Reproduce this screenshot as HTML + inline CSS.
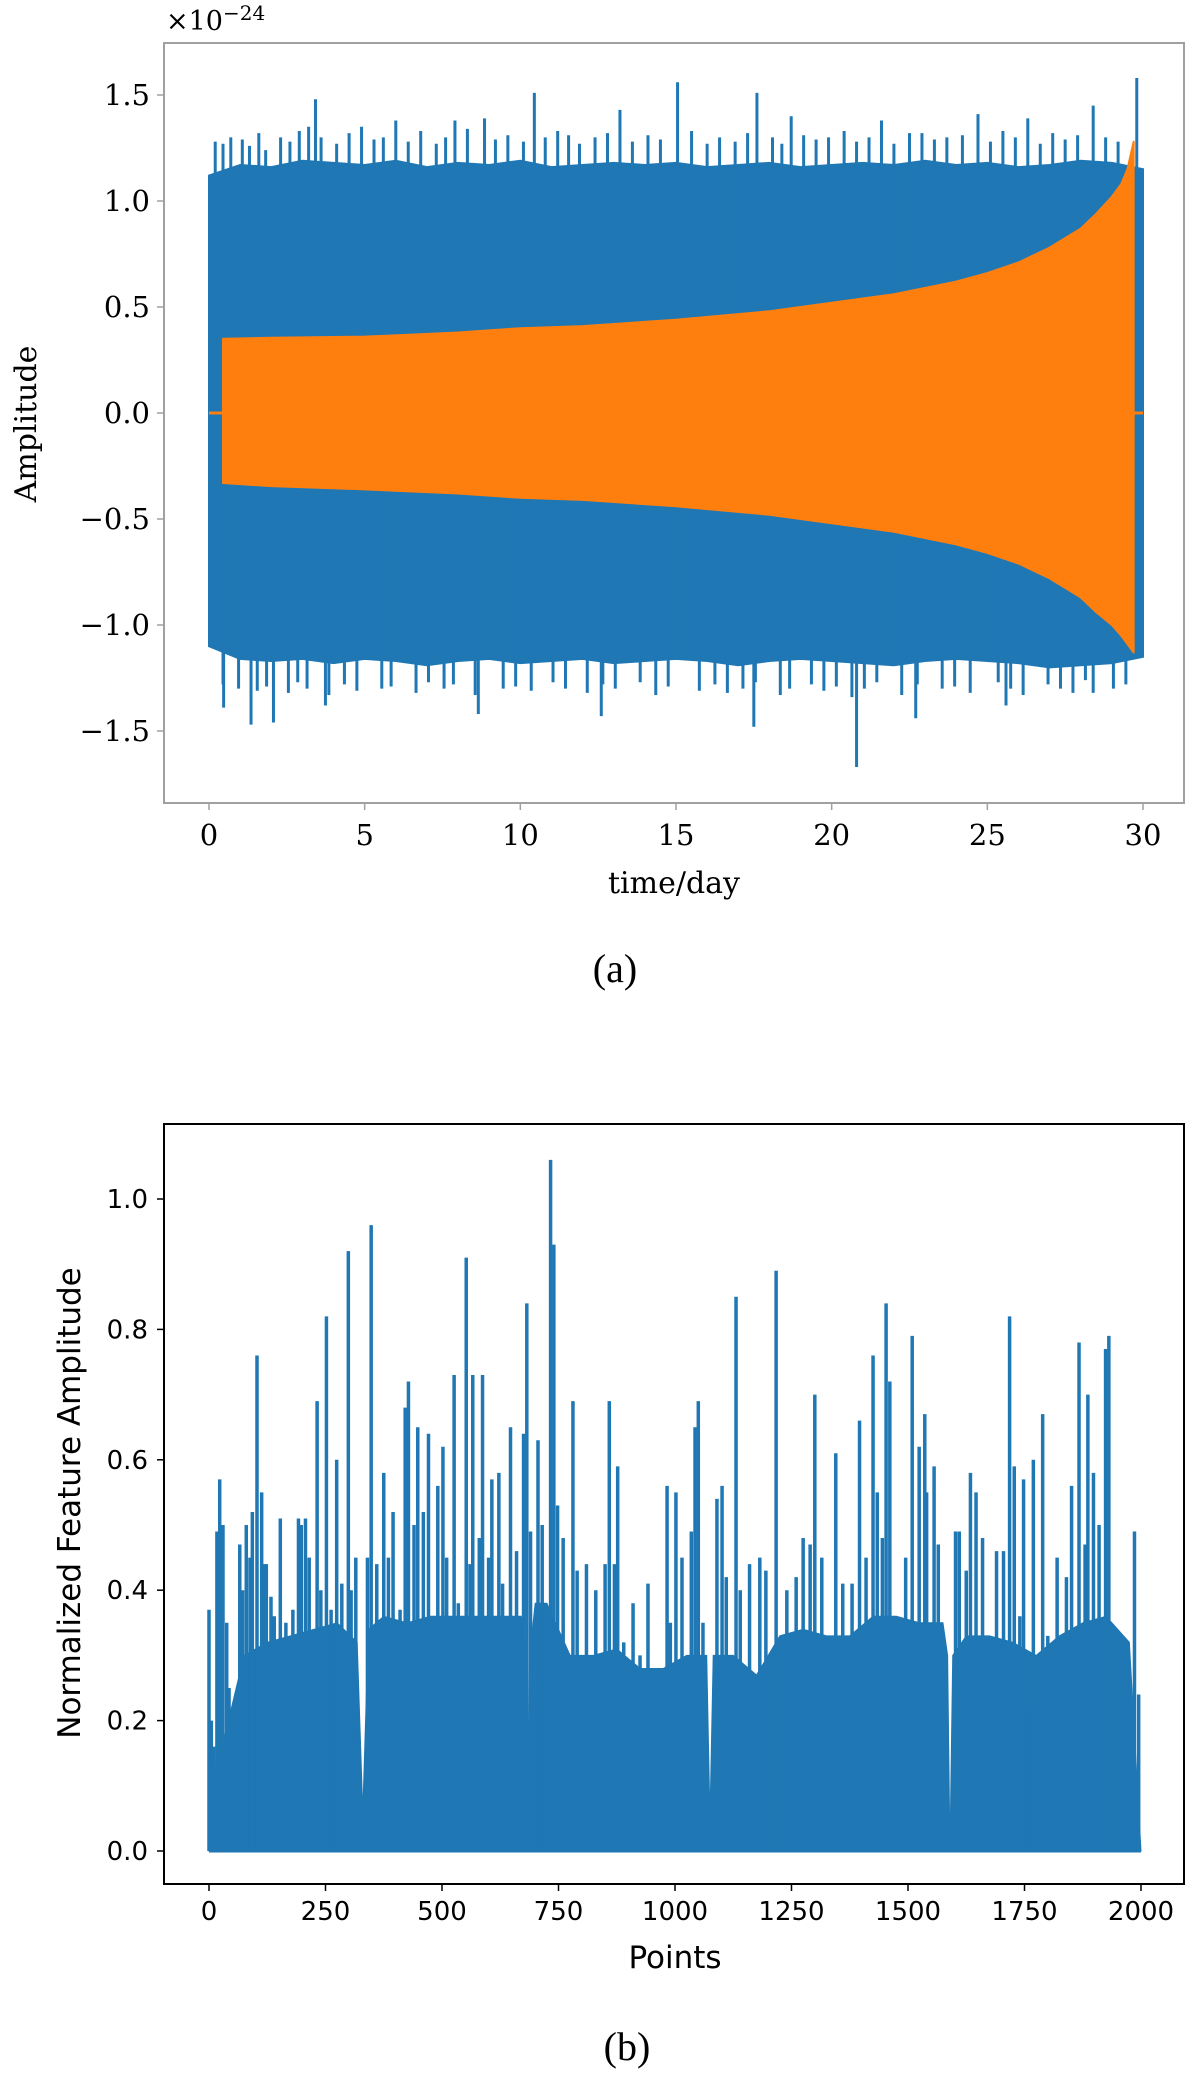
<!DOCTYPE html>
<html><head><meta charset="utf-8">
<style>
html,body{margin:0;padding:0;background:#fff;}
svg{display:block;}
.ser{font-family:"DejaVu Serif","Liberation Serif",serif;}
.san{font-family:"DejaVu Sans","Liberation Sans",sans-serif;}
</style></head>
<body>
<svg id="chart" width="1200" height="2079" viewBox="0 0 1200 2079" xmlns="http://www.w3.org/2000/svg">
<g id="top"></g>
<g id="bot"></g>
</svg>
<script>
// ---- chart (a) data ----
const aXTicks = [0,5,10,15,20,25,30];
const aYTicks = [-1.5,-1.0,-0.5,0.0,0.5,1.0,1.5];
const aEdgeDays = [0,1,2,3,4,5,6,7,8,9,10,11,12,13,14,15,16,17,18,19,20,21,22,23,24,25,26,27,28,29,30];
const aUpperEdge = [1.12,1.17,1.16,1.19,1.18,1.17,1.19,1.16,1.18,1.17,1.19,1.16,1.17,1.18,1.17,1.18,1.16,1.17,1.18,1.16,1.17,1.18,1.17,1.19,1.17,1.18,1.16,1.17,1.19,1.18,1.15];
const aLowerEdge = [-1.1,-1.16,-1.17,-1.16,-1.18,-1.16,-1.17,-1.19,-1.17,-1.16,-1.18,-1.17,-1.16,-1.18,-1.17,-1.16,-1.17,-1.19,-1.17,-1.16,-1.17,-1.18,-1.19,-1.17,-1.16,-1.17,-1.18,-1.2,-1.19,-1.18,-1.15];
const aSpikeDays = [0.45,1.07,1.82,3.2,3.42,4.9,6.0,7.9,8.85,10.45,11.55,13.2,15.05,17.6,18.7,21.6,22.9,24.7,26.3,28.4,29.8,0.47,1.35,2.07,3.74,8.65,12.6,17.5,20.8,22.7,25.6,28.4];
const aSpikeVals = [1.27,1.29,1.24,1.35,1.48,1.35,1.38,1.38,1.39,1.51,1.31,1.43,1.56,1.51,1.40,1.38,1.32,1.41,1.39,1.45,1.58,-1.39,-1.47,-1.46,-1.38,-1.42,-1.43,-1.48,-1.67,-1.44,-1.38,-1.32];
const aMidDays = [0.2,0.7,1.3,1.6,2.3,2.6,2.9,3.6,4.1,4.5,5.3,5.6,6.4,6.8,7.3,7.6,8.3,9.2,9.6,10.1,10.8,11.2,11.9,12.4,12.8,13.6,14.1,14.5,15.5,16.0,16.4,16.9,17.3,18.1,18.4,19.1,19.5,19.9,20.4,20.8,21.2,22.0,22.5,23.3,23.7,24.2,25.1,25.5,25.9,26.7,27.1,27.5,27.9,28.8,29.2];
const aMidUpper = [1.28,1.3,1.26,1.32,1.3,1.28,1.33,1.3,1.27,1.32,1.29,1.3,1.28,1.33,1.27,1.3,1.34,1.29,1.31,1.28,1.3,1.33,1.27,1.3,1.32,1.28,1.31,1.29,1.33,1.27,1.3,1.28,1.32,1.3,1.27,1.31,1.29,1.3,1.33,1.28,1.3,1.27,1.32,1.29,1.3,1.31,1.28,1.33,1.3,1.27,1.32,1.29,1.31,1.3,1.28];
const aMidLower = [-1.28,-1.3,-1.31,-1.29,-1.32,-1.27,-1.3,-1.33,-1.28,-1.31,-1.3,-1.29,-1.32,-1.27,-1.3,-1.28,-1.33,-1.3,-1.29,-1.31,-1.27,-1.3,-1.32,-1.28,-1.3,-1.27,-1.33,-1.29,-1.31,-1.28,-1.32,-1.3,-1.27,-1.33,-1.3,-1.28,-1.31,-1.29,-1.34,-1.3,-1.27,-1.33,-1.28,-1.3,-1.29,-1.32,-1.27,-1.3,-1.33,-1.28,-1.3,-1.32,-1.26,-1.3,-1.28];
const aSigDays = [0.45,2,5,8,10,12,15,18,20,22,24,25,26,27,28,28.5,29,29.3,29.5,29.7];
const aSigUpper = [0.35,0.355,0.36,0.38,0.40,0.41,0.44,0.48,0.52,0.56,0.62,0.66,0.71,0.78,0.87,0.94,1.02,1.08,1.15,1.28];
const aSigLower = [-0.33,-0.345,-0.36,-0.38,-0.40,-0.41,-0.44,-0.48,-0.52,-0.56,-0.62,-0.66,-0.71,-0.78,-0.87,-0.94,-1.0,-1.05,-1.09,-1.13];

// ---- chart (b) data ----
const bXTicks = [0,250,500,750,1000,1250,1500,1750,2000];
const bYTicks = [0.0,0.2,0.4,0.6,0.8,1.0];
const bPeakIdx = [0,10,17,23,30,43,66,80,93,103,113,123,133,153,192,207,232,252,274,299,315,348,375,395,421,428,448,471,491,502,526,552,566,587,607,622,647,675,682,706,733,740,748,781,859,877,942,983,1002,1035,1043,1050,1090,1101,1131,1182,1217,1275,1300,1345,1396,1425,1434,1453,1461,1509,1524,1536,1556,1602,1634,1646,1718,1728,1748,1769,1789,1851,1867,1886,1898,1924,1931,1986,1995];
const bPeakVals = [0.37,0.16,0.49,0.57,0.50,0.25,0.47,0.50,0.52,0.76,0.55,0.44,0.39,0.51,0.51,0.51,0.69,0.82,0.60,0.92,0.45,0.96,0.58,0.52,0.68,0.72,0.65,0.64,0.56,0.62,0.73,0.91,0.73,0.73,0.57,0.58,0.65,0.64,0.84,0.63,1.06,0.93,0.53,0.69,0.69,0.59,0.41,0.56,0.55,0.49,0.65,0.69,0.54,0.56,0.85,0.45,0.89,0.48,0.70,0.61,0.66,0.76,0.55,0.84,0.72,0.79,0.62,0.67,0.59,0.49,0.58,0.55,0.82,0.59,0.57,0.60,0.67,0.56,0.78,0.70,0.58,0.77,0.79,0.49,0.24];
const bMidIdx = [5,38,55,72,88,118,140,165,180,198,215,240,262,285,305,340,360,385,410,440,460,480,510,535,560,580,600,630,660,690,715,760,790,810,830,850,870,890,910,925,960,990,1015,1060,1110,1140,1160,1195,1240,1260,1290,1315,1360,1380,1410,1445,1480,1495,1540,1565,1610,1625,1660,1690,1705,1740,1760,1800,1820,1840,1880,1910,1950,1970];
const bMidVals = [0.2,0.35,0.12,0.4,0.45,0.44,0.36,0.35,0.37,0.5,0.45,0.4,0.37,0.41,0.4,0.45,0.44,0.45,0.37,0.5,0.52,0.32,0.45,0.38,0.44,0.48,0.45,0.41,0.46,0.49,0.5,0.48,0.43,0.44,0.4,0.44,0.44,0.32,0.38,0.3,0.26,0.35,0.45,0.35,0.42,0.4,0.44,0.43,0.4,0.42,0.47,0.45,0.41,0.41,0.45,0.48,0.33,0.45,0.55,0.47,0.49,0.43,0.48,0.46,0.46,0.36,0.22,0.33,0.45,0.42,0.47,0.5,0.3,0.3];
const bBodyIdx = [0,25,75,125,175,225,275,318,330,342,375,425,475,525,575,625,670,682,685,688,700,725,775,825,875,925,975,1025,1068,1075,1082,1125,1175,1225,1275,1325,1375,1425,1475,1525,1575,1585,1590,1596,1625,1675,1725,1775,1825,1875,1925,1975,2000];
const bBodyVals = [0.10,0.15,0.30,0.32,0.33,0.34,0.35,0.32,0.06,0.34,0.36,0.35,0.36,0.36,0.36,0.36,0.36,0.3,0.05,0.3,0.38,0.38,0.30,0.30,0.31,0.28,0.28,0.30,0.3,0.05,0.3,0.30,0.27,0.33,0.34,0.33,0.33,0.36,0.36,0.35,0.35,0.3,0.0,0.3,0.33,0.33,0.32,0.30,0.33,0.35,0.36,0.32,0.0];

const NS = "http://www.w3.org/2000/svg";
function mk(parent, tag, attrs, text){
  const e = document.createElementNS(NS, tag);
  for (const k in attrs) e.setAttribute(k, attrs[k]);
  if (text !== undefined) e.textContent = text;
  parent.appendChild(e);
  return e;
}
const BLUE = "#1f77b4", ORANGE = "#ff7f0e";

// ===== chart (a) =====
(function(){
  const g = document.getElementById('top');
  const L=164, R=1184, T=43, B=803;
  const X = d => 209 + d*(934/30);
  const Y = v => 413 - v*212;
  let pts = aEdgeDays.map((d,i)=>X(d)+","+Y(aUpperEdge[i]));
  for (let i=aEdgeDays.length-1;i>=0;i--) pts.push(X(aEdgeDays[i])+","+Y(aLowerEdge[i]));
  let body = mk(g,'polygon',{points:pts.join(' '),fill:BLUE,stroke:BLUE,'stroke-width':2});
  
  
  aMidDays.forEach((d,i)=>{
    if (aMidUpper[i]!==undefined){
      const l = mk(g,'line',{x1:X(d),x2:X(d),y1:Y(0),y2:Y(aMidUpper[i]),stroke:BLUE,'stroke-width':3});
      
      
    }
    if (aMidLower[i]!==undefined){
      const d2 = d+0.25;
      const l2 = mk(g,'line',{x1:X(d2),x2:X(d2),y1:Y(0),y2:Y(aMidLower[i]),stroke:BLUE,'stroke-width':3});
      
      
    }
  });
  aSpikeDays.forEach((d,i)=>{
    const l = mk(g,'line',{x1:X(d),x2:X(d),y1:Y(0),y2:Y(aSpikeVals[i]),stroke:BLUE,'stroke-width':3});
    
    
  });
  let sp = aSigDays.map((d,i)=>X(d)+","+Y(aSigUpper[i]));
  for (let i=aSigDays.length-1;i>=0;i--) sp.push(X(aSigDays[i])+","+Y(aSigLower[i]));
  const sig = mk(g,'polygon',{points:sp.join(' '),fill:ORANGE,stroke:ORANGE,'stroke-width':2,'stroke-linejoin':'round'});
  
  
  const z1 = mk(g,'line',{x1:X(0),x2:X(aSigDays[0]),y1:Y(0),y2:Y(0),stroke:ORANGE,'stroke-width':3});
  
  
  const z2 = mk(g,'line',{x1:X(aSigDays[aSigDays.length-1]),x2:X(30),y1:Y(0),y2:Y(0),stroke:ORANGE,'stroke-width':3});
  
  
  const fr = mk(g,'rect',{x:L,y:T,width:R-L,height:B-T,fill:'none',stroke:'#a0a0a0','stroke-width':2});
  
  
  aXTicks.forEach(t=>{
    mk(g,'line',{x1:X(t),x2:X(t),y1:B,y2:B+7,stroke:'#a0a0a0','stroke-width':1.5});
    const tx = mk(g,'text',{x:X(t),y:B+42,'text-anchor':'middle','font-size':29,class:'ser',fill:'#000'},String(t));
    
    
  });
  aYTicks.forEach(t=>{
    mk(g,'line',{x1:L-7,x2:L,y1:Y(t),y2:Y(t),stroke:'#a0a0a0','stroke-width':1.5});
    const lab = (t<0?'\u2212':'') + Math.abs(t).toFixed(1);
    const tx = mk(g,'text',{x:150,y:Y(t)+10,'text-anchor':'end','font-size':29,class:'ser',fill:'#000'},lab);
    
    
  });
  const ex = mk(g,'text',{x:166,y:30,'font-size':27,class:'ser',fill:'#000'},'\u00d710');
  
  
  mk(ex,'tspan',{dy:-10,'font-size':20},'\u221224');
  const xl = mk(g,'text',{x:674,y:893,'text-anchor':'middle','font-size':30,class:'ser',fill:'#000'},'time/day');
  
  
  const yl = mk(g,'text',{x:36,y:424,'text-anchor':'middle','font-size':30,class:'ser',fill:'#000',transform:'rotate(-90 36 424)'},'Amplitude');
  
  
  const cap = mk(g,'text',{x:615,y:982,'text-anchor':'middle','font-size':40,style:'font-family:"Liberation Serif",serif',fill:'#000'},'(a)');
  
  
})();

// ===== chart (b) =====
(function(){
  const g = document.getElementById('bot');
  const L=164, R=1184, T=1124, B=1884;
  const X = i => 209 + i*(932/2000);
  const Y = v => 1851 - v*652;
  let pts = [X(bBodyIdx[0])+","+Y(0)];
  bBodyIdx.forEach((ix,i)=>pts.push(X(ix)+","+Y(bBodyVals[i])));
  pts.push(X(bBodyIdx[bBodyIdx.length-1])+","+Y(0));
  const body = mk(g,'polygon',{points:pts.join(' '),fill:BLUE,stroke:BLUE,'stroke-width':1});
  
  
  bMidIdx.forEach((ix,i)=>{
    if (bMidVals[i]===undefined) return;
    const l = mk(g,'line',{x1:X(ix),x2:X(ix),y1:Y(0),y2:Y(bMidVals[i]),stroke:BLUE,'stroke-width':3.5});
    
    
  });
  bPeakIdx.forEach((ix,i)=>{
    const l = mk(g,'line',{x1:X(ix),x2:X(ix),y1:Y(0),y2:Y(bPeakVals[i]),stroke:BLUE,'stroke-width':3.5});
    
    
  });
  const base = mk(g,'line',{x1:X(0),x2:X(2000),y1:Y(0),y2:Y(0),stroke:BLUE,'stroke-width':3});
  
  
  const fr = mk(g,'rect',{x:L,y:T,width:R-L,height:B-T,fill:'none',stroke:'#000','stroke-width':2});
  
  
  bXTicks.forEach(t=>{
    mk(g,'line',{x1:X(t),x2:X(t),y1:B,y2:B+7,stroke:'#000','stroke-width':1.5});
    const tx = mk(g,'text',{x:X(t),y:B+36,'text-anchor':'middle','font-size':26,class:'san',fill:'#000'},String(t));
    
    
  });
  bYTicks.forEach(t=>{
    mk(g,'line',{x1:L-7,x2:L,y1:Y(t),y2:Y(t),stroke:'#000','stroke-width':1.5});
    const tx = mk(g,'text',{x:148,y:Y(t)+9,'text-anchor':'end','font-size':26,class:'san',fill:'#000'},t.toFixed(1));
    
    
  });
  const xl = mk(g,'text',{x:675,y:1968,'text-anchor':'middle','font-size':31,class:'san',fill:'#000'},'Points');
  
  
  const yl = mk(g,'text',{x:80,y:1503,'text-anchor':'middle','font-size':31,class:'san',fill:'#000',transform:'rotate(-90 80 1503)'},'Normalized Feature Amplitude');
  
  
  const cap = mk(g,'text',{x:627,y:2060,'text-anchor':'middle','font-size':40,style:'font-family:"Liberation Serif",serif',fill:'#000'},'(b)');
  
  
})();
</script>
</body></html>
